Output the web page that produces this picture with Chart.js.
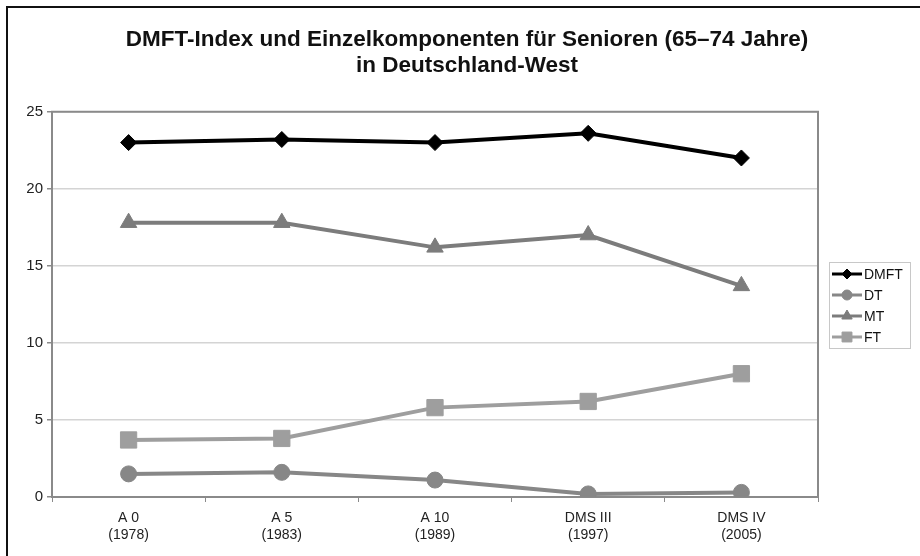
<!DOCTYPE html>
<html>
<head>
<meta charset="utf-8">
<script src="https://cdn.jsdelivr.net/npm/chart.js@4/dist/chart.umd.min.js"></script>
<style>
  html, body { margin: 0; padding: 0; background: #fff; }
  #wrap { position: relative; width: 920px; height: 556px; }
</style>
</head>
<body>
<div id="wrap"><canvas id="c" width="920" height="556"></canvas></div>
<script>
const categories = [["A 0", "(1978)"], ["A 5", "(1983)"], ["A 10", "(1989)"], ["DMS III", "(1997)"], ["DMS IV", "(2005)"]];
const dmft = [23.0, 23.2, 23.0, 23.6, 22.0];
const dt   = [1.5, 1.6, 1.1, 0.2, 0.3];
const mt   = [17.8, 17.8, 16.2, 17.0, 13.7];
const ft   = [3.7, 3.8, 5.8, 6.2, 8.0];
const seriesNames = ["DMFT", "DT", "MT", "FT"];
const titleLines = ["DMFT-Index und Einzelkomponenten für Senioren (65–74 Jahre)", "in Deutschland-West"];
const yTicks = [0, 5, 10, 15, 20, 25];

const FONT = "'Liberation Sans', Arial, sans-serif";

const frameAndLegend = {
  id: 'frameAndLegend',
  beforeDraw(chart) {
    const ctx = chart.ctx;
    ctx.save();
    ctx.fillStyle = '#fff';
    ctx.fillRect(0, 0, chart.width, chart.height);
    ctx.strokeStyle = '#111';
    ctx.lineWidth = 2;
    ctx.strokeRect(7, 7, 1000, 1000);
    ctx.restore();
  },
  beforeDatasetsDraw(chart) {
    const ctx = chart.ctx;
    const a = chart.chartArea;
    ctx.save();
    ctx.strokeStyle = '#8a8a8a';
    ctx.lineWidth = 2;
    ctx.strokeRect(a.left, a.top, a.right - a.left, a.bottom - a.top);
    ctx.restore();
  },
  afterDraw(chart) {
    const ctx = chart.ctx;
    const bx = 829, by = 262, bw = 81, bh = 86;
    ctx.save();
    ctx.strokeStyle = '#c8c8c8';
    ctx.lineWidth = 1;
    ctx.strokeRect(bx + 0.5, by + 0.5, bw, bh);
    chart.data.datasets.forEach((ds, i) => {
      const y = by + 12 + i * 21;
      ctx.strokeStyle = ds.borderColor;
      ctx.lineWidth = 3;
      ctx.beginPath();
      ctx.moveTo(bx + 3, y);
      ctx.lineTo(bx + 33, y);
      ctx.stroke();
      ctx.fillStyle = ds.pointBackgroundColor;
      ctx.strokeStyle = ds.pointBorderColor;
      ctx.lineWidth = 1;
      Chart.helpers.drawPoint(ctx, {pointStyle: ds.pointStyle, radius: ds.legendRadius, borderWidth: 1}, bx + 18, y);
      ctx.fillStyle = '#111';
      ctx.font = '14px ' + FONT;
      ctx.textBaseline = 'middle';
      ctx.textAlign = 'left';
      ctx.fillText(ds.label, bx + 35, y + 1);
    });
    ctx.restore();
  }
};

function mk(label, data, color, style, r, lr) {
  return {
    label, data,
    borderColor: color, backgroundColor: color,
    pointBackgroundColor: color, pointBorderColor: color,
    borderWidth: 4, pointStyle: style, pointRadius: r, pointHoverRadius: r,
    pointBorderWidth: 1, tension: 0, legendRadius: lr
  };
}

new Chart(document.getElementById('c'), {
  type: 'line',
  data: {
    labels: categories,
    datasets: [
      mk(seriesNames[0], dmft, '#000000', 'rectRot', 8, 5),
      mk(seriesNames[1], dt, '#878787', 'circle', 8, 5),
      mk(seriesNames[2], mt, '#7c7c7c', 'triangle', 9.5, 6),
      mk(seriesNames[3], ft, '#9e9e9e', 'rect', 11.5, 7)
    ]
  },
  options: {
    responsive: false,
    animation: false,
    layout: { padding: { left: 14, right: 0, top: 0, bottom: 0 } },
    plugins: {
      legend: { display: false },
      tooltip: { enabled: false },
      title: {
        display: true,
        text: titleLines,
        color: '#111',
        font: { family: FONT, size: 22.5, weight: 'bold', lineHeight: 1.15 },
        padding: { top: 27, bottom: 33 }
      }
    },
    scales: {
      x: {
        offset: true,
        grid: { display: true, offset: true, drawOnChartArea: false, drawTicks: true, tickLength: 5, color: '#8a8a8a', lineWidth: 1 },
        border: { display: true, color: '#7a7a7a', width: 2 },
        ticks: { color: '#222', font: { family: FONT, size: 14 }, padding: 8, maxRotation: 0 },
        afterFit(s) { s.height = 59; }
      },
      y: {
        min: 0, max: 25,
        afterBuildTicks(s) { s.ticks = yTicks.map(v => ({ value: v })); },
        grid: { color: '#d4d4d4', lineWidth: 1.5, tickLength: 5, tickColor: '#8a8a8a' },
        border: { display: true, color: '#7a7a7a', width: 2 },
        ticks: { color: '#222', font: { family: FONT, size: 15 }, padding: 4 },
        afterFit(s) { s.width = 38; }
      },
      y2: {
        position: 'right', min: 0, max: 25,
        grid: { display: false }, border: { display: false },
        ticks: { display: false },
        afterFit(s) { s.width = 102; }
      }
    }
  },
  plugins: [frameAndLegend]
});
</script>
</body>
</html>
